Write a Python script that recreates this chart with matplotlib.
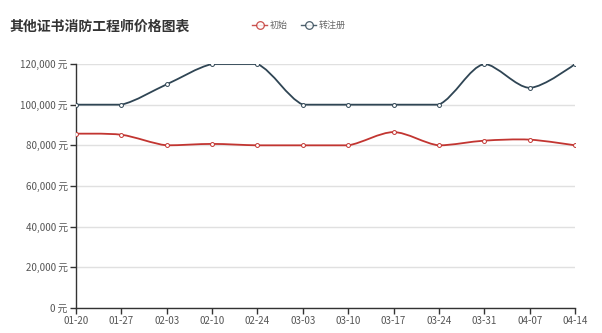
import matplotlib
matplotlib.use("Agg")
import matplotlib.pyplot as plt
import numpy as np
from matplotlib.path import Path
from matplotlib.patches import PathPatch
from matplotlib.lines import Line2D

plt.rcParams["font.family"] = ["Noto Sans CJK SC", "DejaVu Sans"]

dates = ["01-20", "01-27", "02-03", "02-10", "02-24", "03-03", "03-10",
         "03-17", "03-24", "03-31", "04-07", "04-14"]
initial = [85700, 85200, 80000, 80700, 80000, 80000, 80000,
           86500, 80000, 82300, 82800, 80000]
transfer = [100000, 100000, 110000, 120000, 120000, 100000, 100000,
            100000, 100000, 120000, 108300, 120000]

series = [("初始", initial, "#c23531"), ("转注册", transfer, "#2f4554")]

W, H = 602, 333
fig = plt.figure(figsize=(W / 100, H / 100), dpi=100)
ax = fig.add_axes([76 / W, 25 / H, (575 - 76) / W, (308 - 64) / H])

ymax = 120000
xpix = (575 - 76) / (len(dates) - 1)
ypix = (308 - 64) / ymax


def smooth_path(xs, ys, smooth=0.3):
    # echarts-like bezier smoothing, done in pixel space
    P = np.column_stack([np.asarray(xs, float) * xpix, np.asarray(ys, float) * ypix])
    n = len(P)
    lo, hi = P.min(0), P.max(0)
    cin, cout = [], []
    for i in range(n):
        if i == 0 or i == n - 1:
            cin.append(P[i].copy())
            cout.append(P[i].copy())
            continue
        prev, nxt = P[i - 1], P[i + 1]
        v = nxt - prev
        d0 = np.hypot(*(P[i] - prev))
        d1 = np.hypot(*(P[i] - nxt))
        r = d1 / (d0 + d1)
        cin.append(np.clip(P[i] - v * smooth * (1 - r), lo, hi))
        cout.append(np.clip(P[i] + v * smooth * r, lo, hi))
    verts = [P[0]]
    codes = [Path.MOVETO]
    for i in range(n - 1):
        verts += [cout[i], cin[i + 1], P[i + 1]]
        codes += [Path.CURVE4] * 3
    verts = np.array(verts) / [xpix, ypix]
    return Path(verts, codes)


x = np.arange(len(dates))
for name, vals, color in series:
    ax.add_patch(PathPatch(smooth_path(x, vals), facecolor="none",
                           edgecolor=color, lw=1.3, zorder=3))
    ax.plot(x, vals, ls="none", marker="o", ms=2.8, mfc="white",
            mec=color, mew=0.7, zorder=4)

ax.set_xlim(0, len(dates) - 1)
ax.set_ylim(0, ymax)
ax.set_xticks(x)
ax.set_xticklabels(dates)
yt = np.arange(0, ymax + 1, 20000)
ax.set_yticks(yt)
ax.set_yticklabels([f"{v:,} 元" for v in yt])

ax.grid(axis="y", color="#e0e0e0", lw=1)
ax.set_axisbelow(True)
for s in ["top", "right"]:
    ax.spines[s].set_visible(False)
for s in ["left", "bottom"]:
    ax.spines[s].set_color("#333333")
    ax.spines[s].set_linewidth(1)
ax.tick_params(axis="both", colors="#333333", labelcolor="#555555",
               labelsize=7, length=4, width=1, pad=2)

fig.text(9 / W, 1 - 27 / H, "其他证书消防工程师价格图表", fontsize=10,
         fontweight="bold", color="#333333", va="center", ha="left")

# legend
lx = 252
ly = 1 - 25 / H
for name, vals, color in series:
    fig.add_artist(Line2D([lx / W, (lx + 15) / W], [ly, ly], color=color, lw=1,
                          alpha=0.85, transform=fig.transFigure))
    fig.add_artist(Line2D([(lx + 7.5) / W], [ly], marker="o", ms=5.5, mfc="white",
                          mec=color, mew=0.9, alpha=0.85, transform=fig.transFigure))
    fig.text((lx + 18) / W, ly, name, fontsize=6.5, color="#666666",
             va="center", ha="left")
    lx += 49

fig.savefig("out.png", dpi=100)
